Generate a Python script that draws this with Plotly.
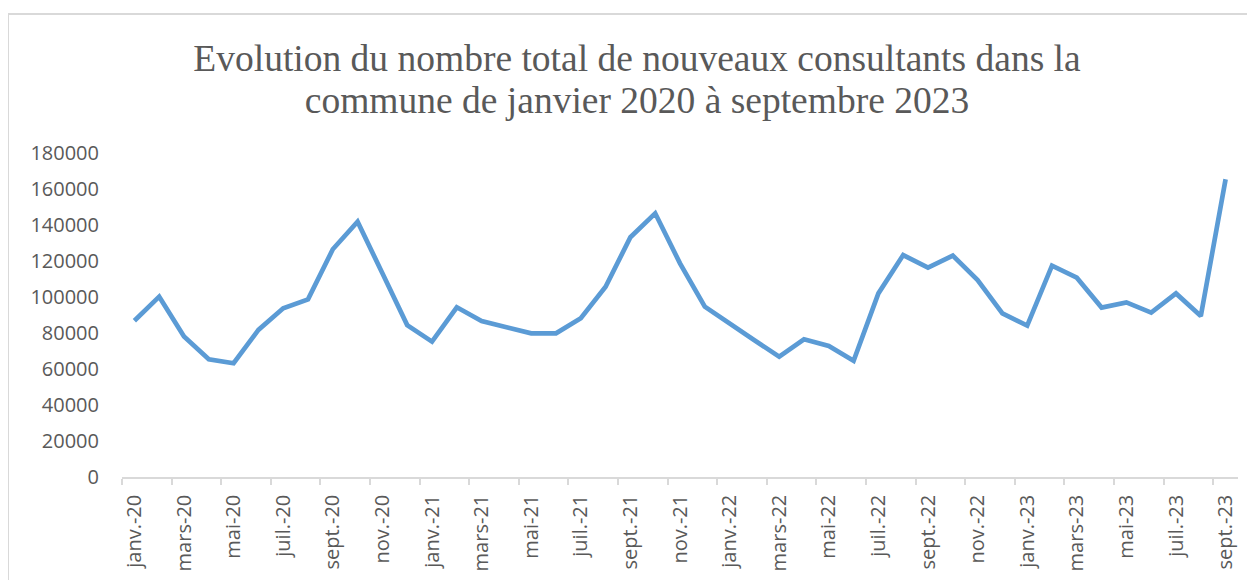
import plotly.graph_objects as go

months = [
    "janv.-20", "févr.-20", "mars-20", "avr.-20", "mai-20", "juin-20",
    "juil.-20", "août-20", "sept.-20", "oct.-20", "nov.-20", "déc.-20",
    "janv.-21", "févr.-21", "mars-21", "avr.-21", "mai-21", "juin-21",
    "juil.-21", "août-21", "sept.-21", "oct.-21", "nov.-21", "déc.-21",
    "janv.-22", "févr.-22", "mars-22", "avr.-22", "mai-22", "juin-22",
    "juil.-22", "août-22", "sept.-22", "oct.-22", "nov.-22", "déc.-22",
    "janv.-23", "févr.-23", "mars-23", "avr.-23", "mai-23", "juin-23",
    "juil.-23", "août-23", "sept.-23",
]
consultants = [
    86800, 100200, 78000, 65400, 63200, 81700, 93700, 98700, 126500, 141800, 113200, 84400,
    75200, 94300, 86700, 83500, 79800, 79800, 88200, 105700, 133200, 146500, 118700, 94600,
    85000, 76000, 66800, 76500, 72800, 64600, 102000, 123300, 116300, 123000, 109400, 90900,
    84100, 117400, 110700, 94100, 97000, 91300, 102000, 89400, 165400,
]
y_ticks = [0, 20000, 40000, 60000, 80000, 100000, 120000, 140000, 160000, 180000]
title_lines = ["Evolution du nombre total de nouveaux consultants dans la",
               "commune de janvier 2020 à septembre 2023"]

idx = list(range(len(months)))
label_idx = idx[::2]
label_txt = months[::2]
boundaries = [i - 0.5 for i in label_idx]

fig = go.Figure()
fig.add_trace(go.Scatter(
    x=idx, y=consultants, mode="lines",
    line=dict(color="#5B9BD5", width=4.7),
    hovertext=months, showlegend=False,
))

W, H = 1247, 572  # page body has an 8px margin
grey = "#595959"
title_text = "<br>".join('<span style="font-size:37.5px">%s</span>' % t for t in title_lines)
fig.update_layout(
    width=W, height=H,
    margin=dict(l=114, r=17, t=145, b=103),
    paper_bgcolor="white", plot_bgcolor="white",
    title=dict(
        text=title_text,
        font=dict(family="Liberation Serif, Times New Roman, serif", size=32, color=grey),
        x=629 / W, xanchor="center", xref="container",
        y=1 - 63 / H, yanchor="top", yref="container",
    ),
    xaxis=dict(
        range=[-0.5, len(months) - 0.5], automargin=False,
        tickmode="array", tickvals=label_idx, ticktext=label_txt,
        tickangle=-90, ticks="", showgrid=False, zeroline=False,
        showline=True, linecolor="#d9d9d9", linewidth=1.5,
        tickfont=dict(family="Open Sans, sans-serif", size=20, color=grey),
        ticklabelstandoff=8,
        minor=dict(tickvals=boundaries, ticks="outside", ticklen=6,
                   tickwidth=1.5, tickcolor="#d9d9d9", showgrid=False),
    ),
    yaxis=dict(
        range=[0, 180000], tickmode="array", tickvals=y_ticks, automargin=False,
        ticktext=[str(v) for v in y_ticks],
        showgrid=False, zeroline=False, showline=False, ticks="",
        tickfont=dict(family="Open Sans, sans-serif", size=20, color=grey),
        ticklabelstandoff=22,
    ),
    shapes=[dict(
        type="rect", xref="paper", yref="paper",
        x0=-114 / 1116, x1=1.2, y0=-0.6, y1=(469 - 6) / 324,
        line=dict(color="#d9d9d9", width=2), fillcolor="rgba(0,0,0,0)",
        layer="below",
    )],
)

fig.write_html("out.html")
